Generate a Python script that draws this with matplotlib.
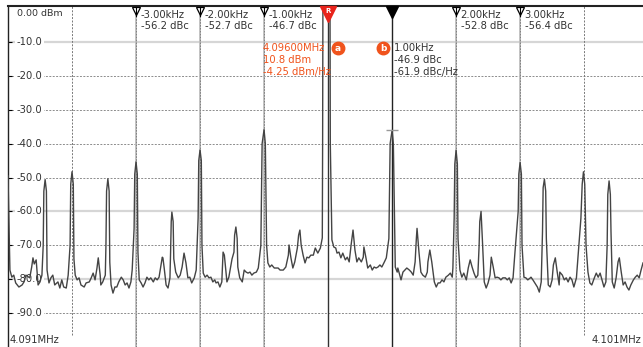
import numpy as np
import matplotlib
matplotlib.use('Agg')
import matplotlib.pyplot as plt
import matplotlib.transforms as mtransforms

# trace: offset from carrier (kHz), level (dBm)
trace = [
    (-5.00, -49.5), (-4.97, -77.3), (-4.94, -79.4), (-4.91, -78.8), (-4.88, -81.1),
    (-4.83, -82.3), (-4.78, -81.7), (-4.75, -80.8), (-4.72, -78.8), (-4.66, -79.6),
    (-4.63, -76.4), (-4.61, -73.7), (-4.59, -75.5), (-4.56, -74.3), (-4.53, -81.7),
    (-4.50, -80.8), (-4.47, -78.8), (-4.45, -70.0), (-4.44, -54.0), (-4.42, -50.6),
    (-4.40, -54.0), (-4.39, -77.3), (-4.36, -81.1), (-4.33, -79.6), (-4.30, -78.8),
    (-4.27, -81.7), (-4.22, -80.8), (-4.19, -82.6), (-4.16, -80.2), (-4.13, -82.3),
    (-4.09, -82.6), (-4.06, -78.8), (-4.03, -70.0), (-4.02, -52.0), (-4.00, -48.3),
    (-3.98, -52.0), (-3.97, -74.0), (-3.95, -78.8), (-3.92, -80.2), (-3.89, -79.6),
    (-3.86, -81.7), (-3.81, -82.3), (-3.78, -81.1), (-3.73, -80.8), (-3.70, -79.6),
    (-3.67, -78.2), (-3.64, -80.2), (-3.61, -76.7), (-3.59, -73.7), (-3.56, -78.8),
    (-3.55, -81.7), (-3.52, -80.8), (-3.48, -78.8), (-3.47, -70.0), (-3.46, -54.0),
    (-3.44, -50.4), (-3.42, -54.0), (-3.41, -75.0), (-3.39, -81.7), (-3.36, -84.1),
    (-3.33, -82.3), (-3.30, -82.3), (-3.27, -80.8), (-3.23, -79.4), (-3.20, -80.2),
    (-3.17, -81.7), (-3.14, -81.1), (-3.11, -82.6), (-3.08, -80.8), (-3.06, -77.3),
    (-3.03, -65.0), (-3.02, -49.0), (-3.00, -45.4), (-2.98, -49.0), (-2.97, -72.0),
    (-2.95, -80.2), (-2.92, -81.1), (-2.89, -82.3), (-2.86, -81.1), (-2.83, -79.4),
    (-2.80, -80.2), (-2.77, -79.6), (-2.73, -80.8), (-2.70, -79.6), (-2.67, -80.2),
    (-2.64, -79.4), (-2.61, -75.8), (-2.59, -73.5), (-2.58, -73.7), (-2.56, -76.7),
    (-2.53, -81.7), (-2.50, -82.6), (-2.47, -79.6), (-2.46, -72.0), (-2.45, -63.0),
    (-2.44, -60.2), (-2.42, -63.0), (-2.41, -74.0), (-2.38, -77.9), (-2.34, -79.6),
    (-2.31, -78.8), (-2.28, -76.4), (-2.25, -72.3), (-2.22, -75.2), (-2.19, -79.6),
    (-2.16, -79.4), (-2.13, -81.1), (-2.09, -79.6), (-2.06, -77.3), (-2.03, -62.0),
    (-2.02, -45.0), (-2.00, -41.9), (-1.98, -45.0), (-1.97, -70.0), (-1.95, -78.2),
    (-1.92, -79.4), (-1.89, -78.8), (-1.86, -79.6), (-1.83, -79.4), (-1.80, -80.8),
    (-1.77, -80.2), (-1.75, -81.1), (-1.72, -80.8), (-1.69, -82.3), (-1.66, -80.8),
    (-1.64, -72.0), (-1.62, -72.9), (-1.59, -78.8), (-1.58, -80.8), (-1.55, -79.4),
    (-1.50, -74.0), (-1.47, -72.0), (-1.46, -67.0), (-1.44, -64.6), (-1.42, -68.0),
    (-1.41, -76.4), (-1.38, -79.6), (-1.34, -80.8), (-1.31, -77.3), (-1.28, -77.9),
    (-1.25, -78.2), (-1.22, -77.9), (-1.19, -78.8), (-1.16, -78.2), (-1.12, -77.9),
    (-1.09, -76.7), (-1.05, -70.0), (-1.03, -40.0), (-1.00, -35.9), (-0.98, -40.0),
    (-0.96, -70.0), (-0.94, -75.2), (-0.91, -76.4), (-0.88, -75.8), (-0.84, -76.7),
    (-0.80, -76.7), (-0.78, -76.7), (-0.75, -77.3), (-0.70, -77.3), (-0.66, -76.4),
    (-0.62, -72.9), (-0.61, -69.9), (-0.58, -73.7), (-0.55, -76.7), (-0.52, -74.9),
    (-0.48, -70.8), (-0.46, -67.0), (-0.44, -65.5), (-0.42, -70.0), (-0.39, -72.9),
    (-0.36, -75.2), (-0.33, -73.5), (-0.30, -73.7), (-0.27, -72.9), (-0.23, -72.9),
    (-0.20, -70.8), (-0.16, -72.3), (-0.12, -70.8), (-0.09, -67.8), (-0.085, -40.0),
    (-0.08, 5.0), (0.00, 10.8), (0.03, 5.0), (0.035, -40.0), (0.06, -68.4),
    (0.09, -70.5), (0.12, -70.8), (0.14, -72.3), (0.17, -72.0), (0.20, -73.7),
    (0.23, -72.3), (0.27, -74.3), (0.30, -73.5), (0.33, -74.9), (0.36, -69.9),
    (0.39, -65.5), (0.42, -71.4), (0.45, -74.9), (0.48, -73.7), (0.52, -74.9),
    (0.55, -73.5), (0.56, -70.5), (0.59, -73.5), (0.62, -76.7), (0.66, -75.8),
    (0.69, -77.3), (0.72, -76.4), (0.75, -76.7), (0.78, -76.4), (0.81, -75.8),
    (0.84, -76.4), (0.88, -74.9), (0.91, -73.7), (0.95, -68.0), (0.97, -40.0),
    (1.00, -36.1), (1.02, -40.0), (1.05, -76.4), (1.08, -77.9), (1.09, -76.7),
    (1.12, -78.8), (1.14, -80.2), (1.17, -77.9), (1.20, -77.3), (1.23, -76.7),
    (1.27, -77.3), (1.30, -77.9), (1.33, -78.8), (1.36, -74.9), (1.38, -67.8),
    (1.39, -65.0), (1.42, -72.0), (1.45, -77.9), (1.48, -78.8), (1.52, -79.4),
    (1.55, -77.9), (1.56, -74.9), (1.59, -71.4), (1.62, -74.9), (1.66, -80.8),
    (1.69, -82.3), (1.72, -81.1), (1.75, -81.1), (1.78, -80.2), (1.81, -80.8),
    (1.84, -79.4), (1.88, -78.8), (1.91, -78.2), (1.94, -79.4), (1.95, -76.7),
    (1.97, -62.0), (1.98, -46.0), (2.00, -42.0), (2.02, -46.0), (2.03, -68.0),
    (2.06, -77.3), (2.09, -79.4), (2.12, -78.2), (2.16, -80.2), (2.19, -76.7),
    (2.22, -74.3), (2.25, -76.4), (2.28, -78.2), (2.31, -79.6), (2.34, -78.8),
    (2.36, -70.0), (2.37, -63.0), (2.39, -60.0), (2.41, -68.0), (2.44, -80.8),
    (2.47, -82.6), (2.50, -81.1), (2.53, -78.8), (2.55, -73.5), (2.58, -76.4),
    (2.61, -79.6), (2.64, -79.4), (2.67, -79.6), (2.70, -80.2), (2.73, -79.6),
    (2.77, -79.6), (2.80, -80.2), (2.83, -79.6), (2.86, -81.1), (2.89, -79.6),
    (2.92, -72.0), (2.97, -60.0), (2.98, -49.0), (3.00, -45.6), (3.02, -49.0),
    (3.03, -70.0), (3.06, -79.4), (3.09, -79.6), (3.12, -80.2), (3.16, -79.6),
    (3.17, -79.4), (3.20, -80.2), (3.23, -81.1), (3.27, -82.3), (3.30, -83.8),
    (3.33, -80.8), (3.35, -66.0), (3.36, -53.0), (3.38, -50.5), (3.40, -54.0),
    (3.41, -68.0), (3.44, -81.7), (3.47, -82.3), (3.50, -80.2), (3.52, -75.8),
    (3.55, -73.7), (3.58, -77.9), (3.61, -81.7), (3.62, -77.9), (3.66, -78.8),
    (3.69, -80.2), (3.72, -79.6), (3.75, -80.8), (3.78, -79.4), (3.81, -80.2),
    (3.84, -82.3), (3.88, -79.6), (3.91, -72.0), (3.95, -62.0), (3.97, -52.0),
    (3.99, -48.3), (4.01, -52.0), (4.03, -70.0), (4.06, -77.9), (4.09, -81.1),
    (4.12, -81.7), (4.16, -79.6), (4.19, -78.2), (4.22, -79.4), (4.25, -78.2),
    (4.28, -80.2), (4.31, -82.3), (4.34, -80.8), (4.36, -70.0), (4.37, -55.0),
    (4.39, -51.0), (4.41, -55.0), (4.42, -66.0), (4.44, -80.8), (4.47, -82.6),
    (4.50, -79.6), (4.53, -74.9), (4.55, -73.7), (4.58, -77.9), (4.61, -81.7),
    (4.64, -80.8), (4.67, -82.3), (4.70, -83.2), (4.73, -81.7), (4.77, -80.2),
    (4.80, -79.4), (4.83, -78.8), (4.86, -79.6), (4.89, -77.3), (4.92, -75.2),
]

center_mhz = 4.096
span_khz = 10
ref_dbm = 10.8
ref_dbm_hz = -4.25

delta_khz = [-3, -2, -1, 2, 3]
delta_dbc = [-56.2, -52.7, -46.7, -52.8, -56.4]

mkb_khz = 1.0
mkb_dbc = -46.9
mkb_dbc_hz = -61.9

y_ticks = [-10, -20, -30, -40, -50, -60, -70, -80, -90]
light_rows = [-10, -60, -80]
grid_cols = [-4, 4]

ORANGE = '#f0531c'
TXT = '#333333'
FS = 7.2

trace_khz, trace_dbm = np.array(trace).T

fig = plt.figure(figsize=(6.43, 3.47), dpi=100)
ax = fig.add_axes([8 / 643, 0, 635 / 643, 341 / 347])
ax.set_xlim(-5, 4.92)
ax.set_ylim(-100, 0.6)
top = mtransforms.blended_transform_factory(ax.transData, ax.transAxes)
left = mtransforms.blended_transform_factory(ax.transAxes, ax.transData)

# horizontal grid
for y in y_ticks:
    if y in light_rows:
        ax.axhline(y, color='#d6d6d6', lw=1.6, zorder=1)
    else:
        ax.axhline(y, color='#8c8c8c', lw=0.7, ls=(0, (2, 1.5)), zorder=1)

# vertical grid + marker lines
ax.vlines(grid_cols, -96.5, 0.6, color='#777777', lw=0.7, linestyles=(0, (2, 1.5)), zorder=1)
for mk in delta_khz:
    ax.axvline(mk, color='#bdbdbd', lw=1.3, zorder=1)
    ax.axvline(mk, color='#777777', lw=0.6, ls=(0, (2, 1.5)), zorder=1)
ax.axvline(0, color='#333333', lw=1.0, zorder=2)
ax.axvline(mkb_khz, color='#222222', lw=1.0, zorder=2)

# y labels inside the plot
for y in y_ticks:
    ax.text(0.0535, y, f'{y:.1f}', transform=left, ha='right', va='center',
            fontsize=FS, color=TXT, zorder=2,
            bbox=dict(facecolor='white', edgecolor='none', pad=1.2))
ax.text(0.0866, -1.5, '0.00 dBm', transform=left, ha='right', va='center',
        fontsize=FS - 0.4, color=TXT, zorder=2)

# trace
ax.plot(trace_khz, trace_dbm, color='#444444', lw=1.0, zorder=3)

# b marker crosshair
mkb_level = ref_dbm + mkb_dbc
ax.hlines(mkb_level, mkb_khz - 0.1, mkb_khz + 0.1, color='#999999', lw=1.0, zorder=4)

# top markers
for mk, dbc in zip(delta_khz, delta_dbc):
    ax.plot([mk], [0.986], marker='v', ms=6, mfc='white', mec='black', mew=0.9,
            transform=top, clip_on=False, zorder=5)
    ax.plot([mk, mk], [0.972, 0.995], color='black', lw=0.8, transform=top, zorder=5)
    ax.text(mk + 0.07, 0.973, f'{mk:.2f}kHz', transform=top, fontsize=FS,
            color=TXT, ha='left', va='center')
    ax.text(mk + 0.07, 0.940, f'{dbc:.1f} dBc', transform=top, fontsize=FS,
            color=TXT, ha='left', va='center')

ax.plot([0], [0.978], marker='v', ms=11, mfc='#e8231b', mec='#e8231b',
        transform=top, clip_on=False, zorder=6)
ax.text(0, 0.985, 'R', transform=top, fontsize=5, color='white', fontweight='bold',
        ha='center', va='center', zorder=7)
ax.plot([mkb_khz], [0.982], marker='v', ms=8, mfc='black', mec='black',
        transform=top, clip_on=False, zorder=6)

# reference marker readout
ref_lines = [f'{center_mhz:.5f}MHz', f'{ref_dbm:.1f} dBm', f'{ref_dbm_hz:.2f} dBm/Hz']
for i, s in enumerate(ref_lines):
    ax.text(-1.02, -11.8 - 3.6 * i, s, fontsize=FS, color=ORANGE, ha='left', va='center', zorder=5)
b_lines = [f'{mkb_khz:.2f}kHz', f'{mkb_dbc:.1f} dBc', f'{mkb_dbc_hz:.1f} dBc/Hz']
for i, s in enumerate(b_lines):
    ax.text(1.03, -11.8 - 3.6 * i, s, fontsize=FS, color=TXT, ha='left', va='center', zorder=5)

for xk, ch in [(0.156, 'a'), (0.86, 'b')]:
    ax.plot([xk], [-11.8], marker='o', ms=9, mfc=ORANGE, mec=ORANGE, zorder=6)
    ax.text(xk, -12.0, ch, fontsize=6.5, fontweight='bold', color='white',
            ha='center', va='center', zorder=7)

# span labels
lo = center_mhz - span_khz / 2000
hi = center_mhz + span_khz / 2000
ax.text(0.003, 0.02, f'{lo:.3f}MHz', transform=ax.transAxes, fontsize=FS, color=TXT,
        ha='left', va='center')
ax.text(0.997, 0.02, f'{hi:.3f}MHz', transform=ax.transAxes, fontsize=FS, color=TXT,
        ha='right', va='center')

ax.set_yticks(y_ticks)
ax.set_xticks([])
ax.tick_params(axis='y', direction='in', length=3, width=0.8, labelleft=False)
for s in ['right', 'bottom']:
    ax.spines[s].set_visible(False)
ax.spines['top'].set_linewidth(1.5)
ax.spines['top'].set_color('#222222')
ax.spines['left'].set_linewidth(1.0)
ax.spines['left'].set_color('#222222')

fig.savefig('out.png', dpi=100)
